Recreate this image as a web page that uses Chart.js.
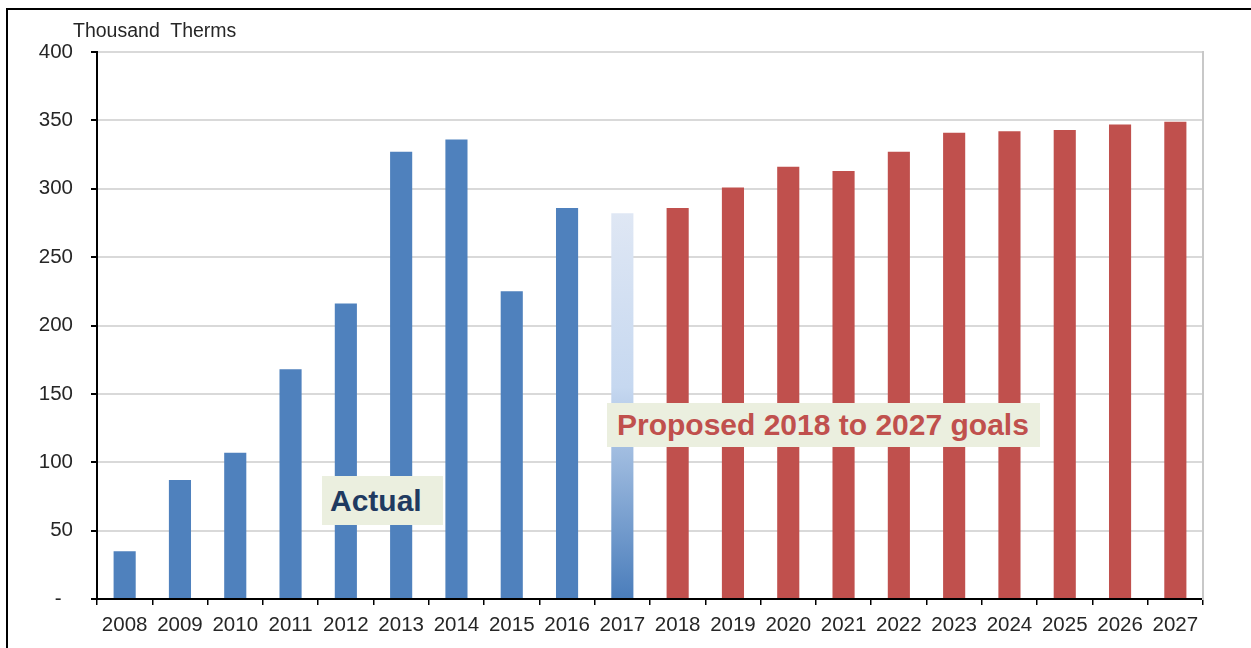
<!DOCTYPE html>
<html>
<head>
<meta charset="utf-8">
<script src="https://cdn.jsdelivr.net/npm/chart.js@4/dist/chart.umd.min.js"></script>
<style>
  html, body { margin: 0; padding: 0; background: #fff; }
  body { width: 1251px; height: 648px; position: relative; overflow: hidden;
         font-family: "Liberation Sans", Arial, sans-serif; }
  #frame { position: absolute; left: 6px; top: 8px; width: 1300px; height: 700px;
           border-left: 2px solid #000; border-top: 2px solid #000; }
  #chart { position: absolute; left: 0; top: 0; }
  .unit { position: absolute; left: 73px; top: 19px; font-size: 19.5px; color: #262626; white-space: pre; }
  .note { position: absolute; background: #EBEFDF; font-weight: bold; font-size: 30px;
          display: flex; align-items: center; box-sizing: border-box; white-space: pre; }
  #note-actual { left: 322px; top: 476px; width: 121px; height: 49px; color: #1F3A60; padding-left: 8px; }
  #note-goals  { left: 607px; top: 403px; width: 433px; height: 44px; color: #C0504D; padding-left: 10px; }
</style>
</head>
<body>
<div id="frame"></div>
<canvas id="chart" width="1251" height="648"></canvas>
<div class="unit">Thousand  Therms</div>
<div class="note" id="note-actual">Actual</div>
<div class="note" id="note-goals">Proposed 2018 to 2027 goals</div>
<script>
// ── Data ───────────────────────────────────────────────────────────────────
const years = ['2008','2009','2010','2011','2012','2013','2014','2015','2016','2017',
               '2018','2019','2020','2021','2022','2023','2024','2025','2026','2027'];
const actualSavings = [35, 87, 107, 168, 216, 327, 336, 225, 286, 282];   // 2008-2017
const proposedGoals = [286, 301, 316, 313, 327, 341, 342, 343, 347, 349]; // 2018-2027
const yTicks = [0, 50, 100, 150, 200, 250, 300, 350, 400];

const BLUE = '#4F81BD';
const RED  = '#C0504D';
const PARTIAL_IDX = actualSavings.length - 1; // 2017 drawn faded

function barColor(ctx) {
  const i = ctx.dataIndex;
  if (i < PARTIAL_IDX) return BLUE;
  if (i > PARTIAL_IDX) return RED;
  const y = ctx.chart.scales.y;
  if (!y) return BLUE;
  const g = ctx.chart.ctx.createLinearGradient(0, y.getPixelForValue(actualSavings[PARTIAL_IDX]), 0, y.getPixelForValue(0));
  g.addColorStop(0, '#DFE7F4');
  g.addColorStop(0.45, '#C6D8F0');
  g.addColorStop(1, '#4A7DBB');
  return g;
}

const tickFont = { family: '"Liberation Sans", Arial, sans-serif', size: 20.5 };

new Chart(document.getElementById('chart').getContext('2d'), {
  type: 'bar',
  data: {
    labels: years,
    datasets: [{
      data: actualSavings.concat(proposedGoals),
      backgroundColor: barColor,
      borderWidth: 0,
      barPercentage: 0.4,
      categoryPercentage: 1,
    }]
  },
  options: {
    responsive: false,
    animation: false,
    devicePixelRatio: 1,
    layout: { padding: { top: 52, right: 48, left: 0, bottom: 0 } },
    plugins: { legend: { display: false }, tooltip: { enabled: false } },
    scales: {
      x: {
        offset: true,
        grid: { offset: true, drawOnChartArea: false, drawTicks: true, tickLength: 6, tickColor: '#000', lineWidth: 1.5 },
        border: { color: '#000', width: 2 },
        ticks: { font: tickFont, color: '#262626', padding: 8, maxRotation: 0, autoSkip: false },
        afterFit: s => { s.height = 49; },
      },
      y: {
        min: 0, max: 400,
        afterBuildTicks: s => { s.ticks = yTicks.map(v => ({ value: v })); },
        ticks: { font: tickFont, color: '#262626', padding: 18, callback: v => v === 0 ? '-  ' : v },
        grid: { color: '#D9D9D9', lineWidth: 2, tickColor: '#000', tickLength: 6, drawTicks: true },
        border: { color: '#000', width: 2 },
        afterFit: s => { s.width = 97; },
      },
      y2: {
        position: 'right',
        min: 0, max: 400,
        ticks: { display: false },
        grid: { drawOnChartArea: false, drawTicks: false },
        border: { color: '#C8C8C8', width: 2 },
        afterFit: s => { s.width = 0; },
      }
    }
  }
});
</script>
</body>
</html>
